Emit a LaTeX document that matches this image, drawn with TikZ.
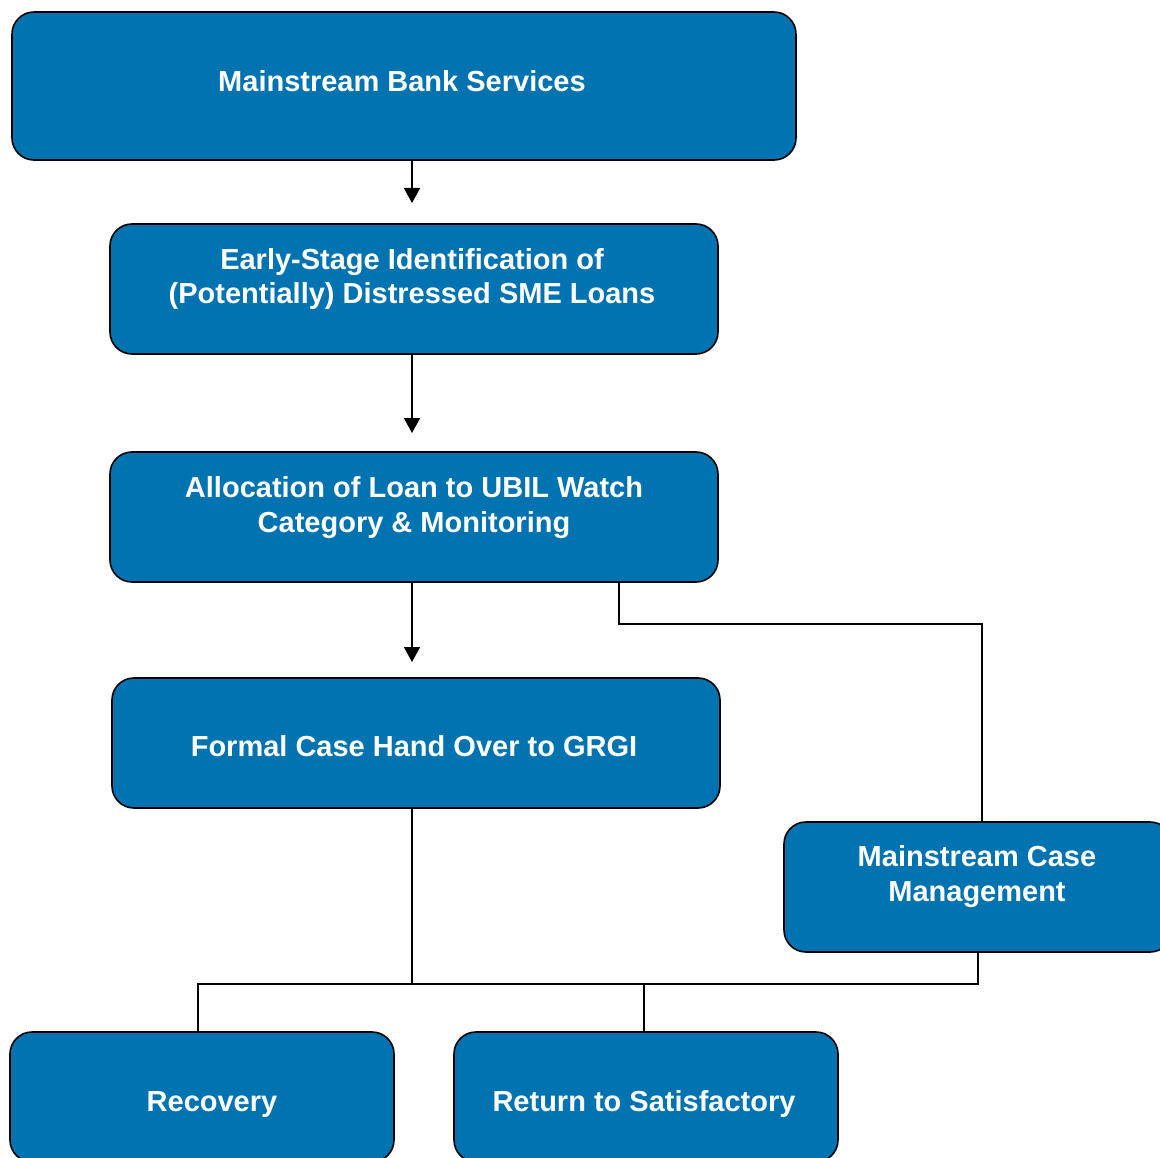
\documentclass[tikz,border=0pt]{standalone}
\usepackage{fontspec}
\setmainfont{Liberation Sans}
\usetikzlibrary{arrows.meta}
\definecolor{boxblue}{RGB}{0,115,176}
\begin{document}
\begin{tikzpicture}[x=1pt,y=-1pt,
  box/.style={draw=black, line width=1.6pt, fill=boxblue, rounded corners=22pt, inner sep=0pt},
  lbl/.style={text=white, font=\fontsize{29}{34.5}\selectfont\bfseries, align=center, inner sep=0pt},
  conn/.style={draw=black, line width=1.6pt},
  arr/.style={conn, -{Triangle[length=15pt,width=16pt]}}]
\useasboundingbox (0,0) rectangle (1160,1158);
\clip (0,0) rectangle (1160,1158);
% boxes
\node[box, minimum width=784pt, minimum height=148pt] (b1) at (404,86) {};
\node[box, minimum width=608pt, minimum height=130pt] (b2) at (414,289) {};
\node[box, minimum width=608pt, minimum height=130pt] (b3) at (414,517) {};
\node[box, minimum width=608pt, minimum height=130pt] (b4) at (416,743) {};
\node[box, minimum width=388pt, minimum height=130pt] (b5) at (978,887) {};
\node[box, minimum width=384pt, minimum height=130pt] (b6) at (202,1097) {};
\node[box, minimum width=384pt, minimum height=130pt] (b7) at (646,1097) {};
% labels
\node[lbl, anchor=base] (t1) at (402,91.5) {Mainstream Bank Services};
\node[lbl] (t2) at (412,279) {Early-Stage Identification of\\(Potentially) Distressed SME Loans};
\node[lbl] (t3) at (414,507.5) {Allocation of Loan to UBIL Watch\\Category \& Monitoring};
\node[lbl] (t5) at (977,876.5) {Mainstream Case\\Management};
\node[lbl, anchor=base] (t4) at (414,756.5) {Formal Case Hand Over to GRGI};
\node[lbl, anchor=base] (t6) at (212,1111.5) {Recovery};
\node[lbl, anchor=base] (t7) at (644,1111.5) {Return to Satisfactory};
% connector coordinates
\coordinate (a1) at (412,203);
\coordinate (a2) at (412,433);
\coordinate (a3) at (412,662);
\coordinate (j1) at (619,624);
\coordinate (j2) at (982,624);
\coordinate (h0) at (412,984);
\coordinate (hL) at (198,984);
\coordinate (hM) at (644,984);
\coordinate (hR) at (978,984);
% connectors
\draw[arr] (b1.south -| a1) -- (a1);
\draw[arr] (b2.south -| a2) -- (a2);
\draw[arr] (b3.south -| a3) -- (a3);
\draw[conn] (b3.south -| j1) -- (j1) -- (j2) -- (j2 |- b5.north);
\draw[conn] (b4.south -| h0) -- (h0);
\draw[conn] (hL |- b6.north) -- (hL) -- (hR) -- (hR |- b5.south);
\draw[conn] (hM) -- (hM |- b7.north);
\end{tikzpicture}
\end{document}
